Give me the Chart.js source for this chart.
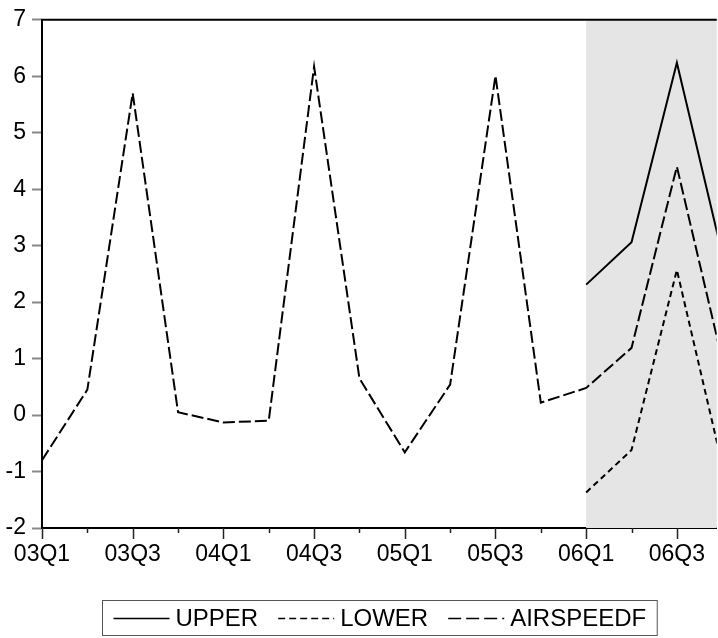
<!DOCTYPE html>
<html>
<head>
<meta charset="utf-8">
<script src="https://cdn.jsdelivr.net/npm/chart.js@4"></script>
<style>
  html, body { margin: 0; padding: 0; background: #fff; }
  #wrap { width: 718px; height: 638px; }
</style>
</head>
<body>
<div id="wrap"><canvas id="chart" width="718" height="638"></canvas></div>
<script>
/* ===== DATA ===== */
const quarters = ['03Q1', '03Q2', '03Q3', '03Q4', '04Q1', '04Q2', '04Q3', '04Q4',
                  '05Q1', '05Q2', '05Q3', '05Q4', '06Q1', '06Q2', '06Q3', '06Q4'];
const airspeedf = [-0.80, 0.45, 5.70, 0.05, -0.13, -0.10, 6.17, 0.65,
                   -0.66, 0.54, 6.01, 0.22, 0.48, 1.19, 4.40, 0.98];
const upper = [null, null, null, null, null, null, null, null,
               null, null, null, null, 2.31, 3.06, 6.24, 2.85];
const lower = [null, null, null, null, null, null, null, null,
               null, null, null, null, -1.37, -0.62, 2.57, -0.88];
const yTicks = [-2, -1, 0, 1, 2, 3, 4, 5, 6, 7];
const forecastStart = 12;   // 06Q1, start of the shaded forecast period
const xMax = 14.88;         // picture is cut just before 06Q4

const FONT = "'Liberation Sans', Arial, sans-serif";

const toPoints = arr => arr.map((v, i) => ({ x: i, y: v }));

// grey band behind forecast + top frame line
const shadePlugin = {
  id: 'shade',
  beforeDatasetsDraw(chart) {
    const { ctx, chartArea, scales } = chart;
    const x0 = scales.x.getPixelForValue(forecastStart);
    ctx.save();
    ctx.fillStyle = '#e5e5e5';
    ctx.fillRect(x0, chartArea.top, chartArea.right - x0, chartArea.bottom - chartArea.top);
    ctx.restore();
  },
  afterDraw(chart) {
    const { ctx, chartArea } = chart;
    ctx.save();
    ctx.strokeStyle = '#000';
    ctx.lineWidth = 2;
    ctx.beginPath();
    ctx.moveTo(chartArea.left - 1, chartArea.top);
    ctx.lineTo(chartArea.right, chartArea.top);
    ctx.stroke();
    ctx.restore();
  }
};

// quarter ticks: long on labelled quarters, short between
const quarterTicks = {
  id: 'quarterTicks',
  afterDraw(chart) {
    const { ctx, chartArea, scales } = chart;
    ctx.save();
    ctx.strokeStyle = '#222';
    ctx.lineWidth = 1.5;
    quarters.forEach((q, i) => {
      if (i > xMax) return;
      const x = Math.round(scales.x.getPixelForValue(i)) + 0.5;
      const len = i % 2 === 0 ? 11 : 5;
      ctx.beginPath();
      ctx.moveTo(x, chartArea.bottom);
      ctx.lineTo(x, chartArea.bottom + len);
      ctx.stroke();
    });
    ctx.restore();
  }
};

// boxed legend under the plot, like the original
const boxLegend = {
  id: 'boxLegend',
  afterDraw(chart) {
    const { ctx, chartArea } = chart;
    const sample = 56, gapText = 6, gapItem = 20, pad = 11;
    ctx.save();
    ctx.font = '24px ' + FONT;
    const items = chart.data.datasets.map(ds => ({
      label: ds.label, dash: ds.borderDash || [], w: ctx.measureText(ds.label).width
    }));
    let total = pad * 2;
    items.forEach((it, i) => { total += sample + gapText + it.w + (i < items.length - 1 ? gapItem : 0); });
    const cx = (chartArea.left + chartArea.right) / 2;
    const left = Math.round(cx - total / 2) + 0.5;
    const top = 600.5, h = 35, mid = top + 18;

    ctx.strokeStyle = '#555';
    ctx.lineWidth = 1;
    ctx.strokeRect(left, top, total, h);

    let x = left + pad;
    ctx.fillStyle = '#000';
    ctx.textBaseline = 'middle';
    items.forEach(it => {
      ctx.strokeStyle = '#000';
      ctx.lineWidth = 1.5;
      ctx.setLineDash(it.dash.length ? (it.label === 'LOWER' ? [7, 4] : [13, 5]) : []);
      ctx.beginPath();
      ctx.moveTo(x, mid);
      ctx.lineTo(x + sample, mid);
      ctx.stroke();
      ctx.setLineDash([]);
      x += sample + gapText;
      ctx.fillText(it.label, x, mid + 1);
      x += it.w + gapItem;
    });
    ctx.restore();
  }
};

const lineStyle = {
  borderColor: '#000',
  borderWidth: 2,
  pointRadius: 0,
  fill: false,
  tension: 0,
  spanGaps: false
};

new Chart(document.getElementById('chart'), {
  type: 'line',
  data: {
    datasets: [
      { ...lineStyle, label: 'UPPER', data: toPoints(upper) },
      { ...lineStyle, label: 'LOWER', data: toPoints(lower), borderDash: [6, 4] },
      { ...lineStyle, label: 'AIRSPEEDF', data: toPoints(airspeedf), borderDash: [12, 4] }
    ]
  },
  options: {
    responsive: false,
    animation: false,
    layout: { padding: { top: 19, right: 0, left: 0, bottom: 0 } },
    plugins: {
      legend: { display: false },
      tooltip: { enabled: false }
    },
    scales: {
      x: {
        type: 'linear',
        min: 0,
        max: xMax,
        afterFit(scale) { scale.height = 110; },
        grid: { drawOnChartArea: false, drawTicks: false },
        border: { color: '#000', width: 2 },
        ticks: {
          stepSize: 1,
          includeBounds: false,
          autoSkip: false,
          maxRotation: 0,
          padding: 13,
          color: '#000',
          font: { family: FONT, size: 23 },
          callback: v => (Number.isInteger(v) && v % 2 === 0 ? quarters[v] : '')
        }
      },
      y: {
        min: yTicks[0],
        max: yTicks[yTicks.length - 1],
        afterFit(scale) { scale.width = 42; },
        afterBuildTicks(scale) { scale.ticks = yTicks.map(v => ({ value: v })); },
        grid: { drawOnChartArea: false, tickLength: 10, tickColor: '#888', tickWidth: 2 },
        border: { color: '#000', width: 2 },
        ticks: {
          padding: 6,
          color: '#000',
          font: { family: FONT, size: 23 }
        }
      }
    }
  },
  plugins: [shadePlugin, quarterTicks, boxLegend]
});
</script>
</body>
</html>
